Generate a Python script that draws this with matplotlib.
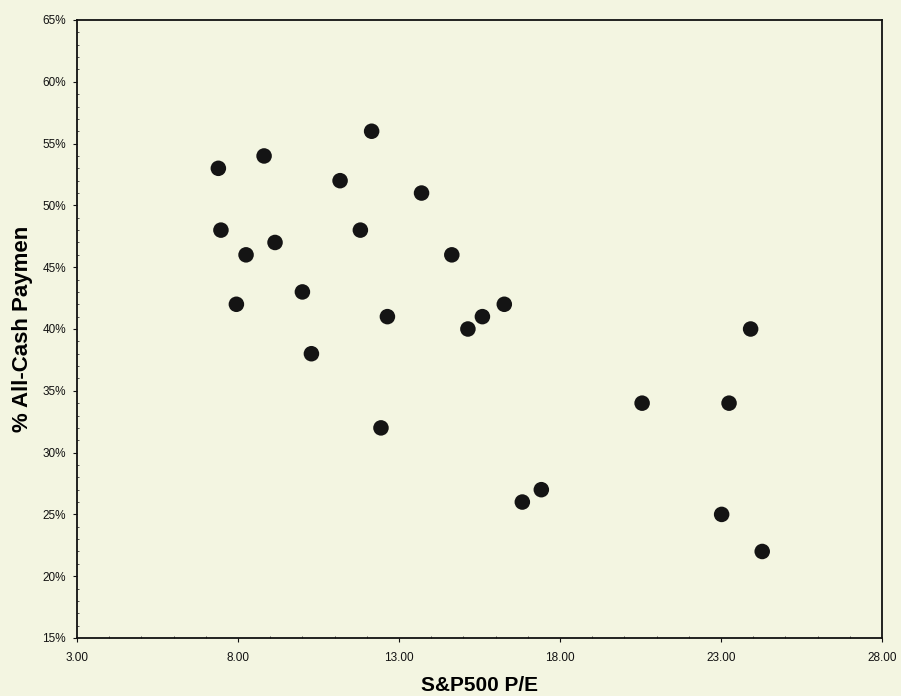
import matplotlib
matplotlib.use('Agg')
import matplotlib.pyplot as plt
from matplotlib.ticker import FuncFormatter, MultipleLocator

# S&P500 P/E vs share of all-cash payments
pe_ratio = [12.15, 8.81, 7.39, 11.17, 13.70, 7.47, 11.80, 9.15, 8.25, 14.64,
            10.00, 7.95, 16.27, 12.64, 15.59, 15.14, 10.28, 12.44, 17.42, 16.83,
            23.92, 20.55, 23.25, 23.02, 24.28]
cash_pct = [56, 54, 53, 52, 51, 48, 48, 47, 46, 46,
            43, 42, 42, 41, 41, 40, 38, 32, 27, 26,
            40, 34, 34, 25, 22]

x_ticks = [3, 8, 13, 18, 23, 28]
y_ticks = [15, 20, 25, 30, 35, 40, 45, 50, 55, 60, 65]

bg = '#f3f5e1'
plt.rcParams['font.family'] = ['Liberation Sans', 'DejaVu Sans']

fig = plt.figure(figsize=(9.01, 6.96), dpi=100, facecolor=bg)
ax = fig.add_axes([77/901, 58/696, 805/901, 618/696])
ax.set_facecolor(bg)

ax.scatter(pe_ratio, cash_pct, s=125, color='#141414', edgecolors='none', zorder=3)

ax.set_xlim(3, 28)
ax.set_ylim(15, 65)
ax.set_xticks(x_ticks)
ax.set_yticks(y_ticks)
ax.xaxis.set_minor_locator(MultipleLocator(1))
ax.yaxis.set_minor_locator(MultipleLocator(1))
ax.xaxis.set_major_formatter(FuncFormatter(lambda v, p: '%.2f' % v))
ax.yaxis.set_major_formatter(FuncFormatter(lambda v, p: '%d%%' % v))

ax.tick_params(axis='both', which='major', direction='out', length=3, width=0.8,
               labelsize=8.5, pad=5, colors='#111111')
ax.tick_params(axis='x', which='major', pad=7)
ax.tick_params(axis='both', which='minor', direction='in', length=1.5, width=0.6, colors='#333333')

for sp in ax.spines.values():
    sp.set_linewidth(1.3)
    sp.set_color('#111111')

ax.set_xlabel('S&P500 P/E', fontsize=15, fontweight='bold', labelpad=8.5)
ax.set_ylabel('% All-Cash Paymen', fontsize=16, fontweight='bold', labelpad=7)

fig.savefig('out.png', dpi=100, facecolor=bg)
